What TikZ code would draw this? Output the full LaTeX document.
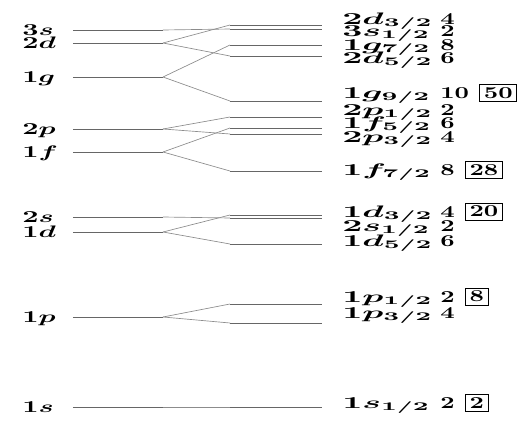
\documentclass[tikz,border=0pt]{standalone}
\usepackage{graphicx}
\usetikzlibrary{positioning}
\newcommand{\stretched}[2][1.7]{\scalebox{#1}[1]{#2}}

\begin{document}
\begin{tikzpicture}[x=0.6pt, y=-0.6pt, font=\boldmath\bfseries,
        level/.style={draw=black!60, line width=0.5pt},
        split/.style={draw=black!45, line width=0.4pt},
        orb/.style={anchor=base west, inner sep=0pt},
        shell/.style={draw, line width=0.4pt, inner xsep=2.5pt, inner ysep=1.8pt}]
      \useasboundingbox (0,0) rectangle (530,421);
      % oscillator levels, left
      \foreach \n/\t/\y in {3s/3s/30, 2d/2d/43, 1g/1g/77, 2p/2p/129, 1f/1f/152,
                            2s/2s/217, 1d/1d/232, 1p/1p/317, 1s/1s/407} {
        \node[orb] (o\n) at (22,\y+5) {\stretched{$\t$}};
        \coordinate (a\n) at (73,\y);
        \coordinate (b\n) at (163,\y);
        \draw[level] (a\n) -- (b\n);
      }
      % spin-orbit levels, right
      \foreach \n/\y/\b/\t/\k in {2d3/25/24/2d_{3/2}/4, 3s1/29/36/3s_{1/2}/2,
                                  1g7/45/50/1g_{7/2}/8, 2d5/56/63/2d_{5/2}/6,
                                  1g9/101/98/1g_{9/2}/10,
                                  2p1/117/115/2p_{1/2}/2, 1f5/128/128/1f_{5/2}/6,
                                  2p3/134/142/2p_{3/2}/4, 1f7/171/175/1f_{7/2}/8,
                                  1d3/215/217/1d_{3/2}/4, 2s1/218/231/2s_{1/2}/2,
                                  1d5/244/246/1d_{5/2}/6, 1p1/304/302/1p_{1/2}/2,
                                  1p3/323/318/1p_{3/2}/4, 1s1/407/408/1s_{1/2}/2} {
        \coordinate (c\n) at (230,\y);
        \coordinate (d\n) at (322,\y);
        \draw[level] (c\n) -- (d\n);
        \node[orb] (j\n) at (342,\b) {\stretched[2.1]{$\t$}};
        \node[orb] (g\n) at (440,\b) {\stretched[1.5]{\k}};
      }
      % magic numbers
      \node[shell, right=6pt of g1g9] (m50) {\stretched[1.5]{50}};
      \node[shell, right=6pt of g1f7] (m28) {\stretched[1.5]{28}};
      \node[shell, right=6pt of g1d3] (m20) {\stretched[1.5]{20}};
      \node[shell, right=6pt of g1p1] (m8) {\stretched[1.5]{8}};
      \node[shell, right=6pt of g1s1] (m2) {\stretched[1.5]{2}};
      % splitting
      \draw[split] (b3s) -- (c3s1);
      \draw[split] (b2d) -- (c2d3);
      \draw[split] (b2d) -- (c2d5);
      \draw[split] (b1g) -- (c1g7);
      \draw[split] (b1g) -- (c1g9);
      \draw[split] (b2p) -- (c2p1);
      \draw[split] (b2p) -- (c2p3);
      \draw[split] (b1f) -- (c1f5);
      \draw[split] (b1f) -- (c1f7);
      \draw[split] (b2s) -- (c2s1);
      \draw[split] (b1d) -- (c1d3);
      \draw[split] (b1d) -- (c1d5);
      \draw[split] (b1p) -- (c1p1);
      \draw[split] (b1p) -- (c1p3);
      \draw[split] (b1s) -- (c1s1);
    \end{tikzpicture}
\end{document}
